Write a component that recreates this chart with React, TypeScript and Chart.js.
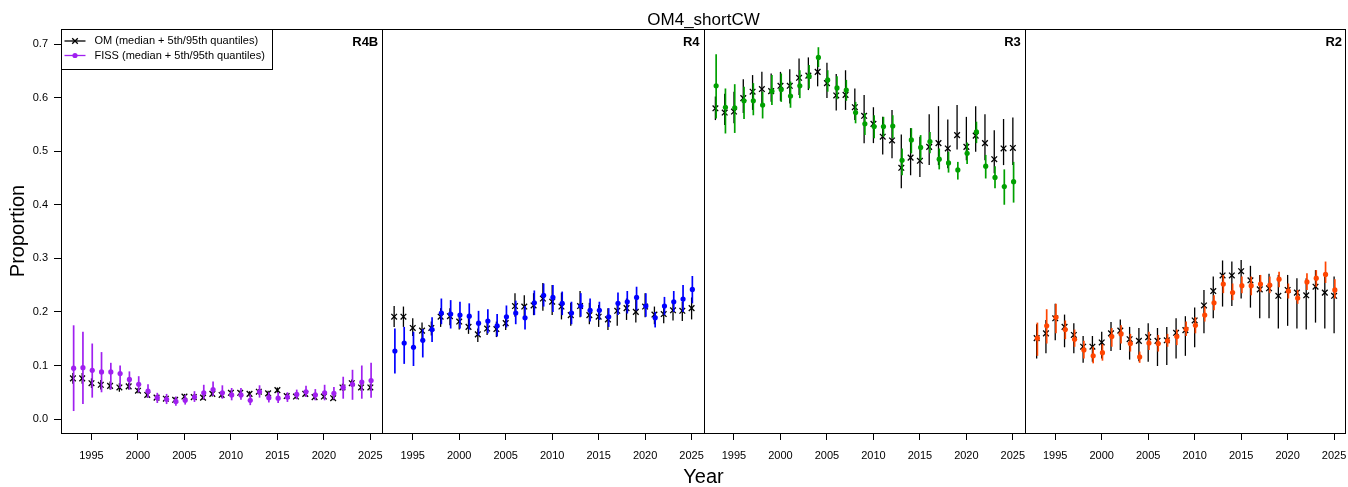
import React, { useEffect, useRef } from "react";
import { Chart, registerables } from "chart.js";

Chart.register(...registerables);

// ---------- data ----------
const YEARS = [1993, 1994, 1995, 1996, 1997, 1998, 1999, 2000, 2001, 2002, 2003, 2004, 2005, 2006, 2007, 2008, 2009, 2010, 2011, 2012, 2013, 2014, 2015, 2016, 2017, 2018, 2019, 2020, 2021, 2022, 2023, 2024, 2025];
const X_TICK_YEARS = [1995, 2000, 2005, 2010, 2015, 2020, 2025];
const Y_TICKS = [0, 0.1, 0.2, 0.3, 0.4, 0.5, 0.6, 0.7];
const PANEL_NAMES = ["R4B", "R4", "R3", "R2"];
const TITLE = "OM4_shortCW";
const LEGEND_LABELS = ["OM (median + 5th/95th quantiles)", "FISS (median + 5th/95th quantiles)"];

// R4B
const R4B_OM_MED = [0.076, 0.076, 0.067, 0.064, 0.062, 0.059, 0.061, 0.053, 0.045, 0.040, 0.038, 0.036, 0.042, 0.041, 0.040, 0.047, 0.045, 0.049, 0.049, 0.047, 0.051, 0.048, 0.054, 0.043, 0.042, 0.047, 0.041, 0.042, 0.039, 0.059, 0.067, 0.059, 0.059];
const R4B_OM_LO = [0.066, 0.066, 0.058, 0.055, 0.055, 0.051, 0.055, 0.048, 0.040, 0.035, 0.034, 0.032, 0.038, 0.037, 0.036, 0.042, 0.040, 0.044, 0.044, 0.042, 0.046, 0.043, 0.049, 0.039, 0.038, 0.042, 0.037, 0.038, 0.035, 0.053, 0.061, 0.053, 0.053];
const R4B_OM_HI = [0.086, 0.086, 0.076, 0.073, 0.070, 0.067, 0.068, 0.058, 0.050, 0.045, 0.043, 0.041, 0.047, 0.046, 0.045, 0.052, 0.050, 0.054, 0.054, 0.052, 0.056, 0.053, 0.059, 0.048, 0.047, 0.052, 0.046, 0.047, 0.044, 0.066, 0.074, 0.066, 0.066];
const R4B_FISS_MED = [0.095, 0.096, 0.091, 0.088, 0.088, 0.085, 0.074, 0.065, 0.052, 0.040, 0.037, 0.033, 0.035, 0.041, 0.049, 0.055, 0.049, 0.045, 0.045, 0.035, 0.051, 0.040, 0.039, 0.041, 0.046, 0.051, 0.045, 0.049, 0.048, 0.059, 0.065, 0.069, 0.072];
const R4B_FISS_LO = [0.015, 0.028, 0.040, 0.050, 0.055, 0.058, 0.055, 0.050, 0.040, 0.030, 0.028, 0.025, 0.027, 0.032, 0.037, 0.043, 0.038, 0.035, 0.036, 0.026, 0.040, 0.031, 0.030, 0.032, 0.037, 0.041, 0.035, 0.035, 0.037, 0.038, 0.036, 0.038, 0.040];
const R4B_FISS_HI = [0.175, 0.163, 0.141, 0.125, 0.105, 0.100, 0.089, 0.080, 0.065, 0.049, 0.047, 0.042, 0.045, 0.052, 0.064, 0.070, 0.063, 0.058, 0.058, 0.046, 0.063, 0.050, 0.050, 0.050, 0.055, 0.062, 0.056, 0.064, 0.060, 0.079, 0.092, 0.100, 0.105];

// R4
const R4_OM_MED = [0.191, 0.191, 0.170, 0.165, 0.170, 0.191, 0.192, 0.182, 0.172, 0.158, 0.169, 0.168, 0.179, 0.211, 0.210, 0.212, 0.225, 0.219, 0.210, 0.194, 0.211, 0.194, 0.191, 0.186, 0.202, 0.207, 0.200, 0.210, 0.195, 0.196, 0.203, 0.202, 0.207];
const R4_OM_LO = [0.172, 0.172, 0.155, 0.147, 0.156, 0.172, 0.175, 0.167, 0.159, 0.144, 0.157, 0.153, 0.166, 0.191, 0.188, 0.194, 0.202, 0.194, 0.186, 0.174, 0.190, 0.177, 0.172, 0.166, 0.174, 0.185, 0.180, 0.190, 0.177, 0.179, 0.184, 0.183, 0.186];
const R4_OM_HI = [0.211, 0.210, 0.188, 0.180, 0.182, 0.207, 0.207, 0.197, 0.188, 0.169, 0.182, 0.182, 0.188, 0.235, 0.231, 0.235, 0.254, 0.250, 0.236, 0.217, 0.239, 0.217, 0.213, 0.207, 0.216, 0.225, 0.222, 0.235, 0.210, 0.208, 0.222, 0.219, 0.227];
const R4_FISS_MED = [0.127, 0.142, 0.134, 0.147, 0.167, 0.198, 0.196, 0.194, 0.192, 0.179, 0.183, 0.174, 0.191, 0.198, 0.189, 0.217, 0.231, 0.227, 0.216, 0.198, 0.211, 0.203, 0.203, 0.191, 0.216, 0.219, 0.227, 0.211, 0.189, 0.211, 0.219, 0.224, 0.242];
const R4_FISS_LO = [0.085, 0.103, 0.099, 0.115, 0.144, 0.177, 0.169, 0.169, 0.167, 0.156, 0.160, 0.154, 0.171, 0.177, 0.167, 0.194, 0.210, 0.200, 0.194, 0.177, 0.191, 0.182, 0.185, 0.172, 0.194, 0.197, 0.203, 0.191, 0.171, 0.194, 0.200, 0.200, 0.216];
const R4_FISS_HI = [0.169, 0.172, 0.163, 0.168, 0.190, 0.225, 0.222, 0.219, 0.216, 0.202, 0.205, 0.196, 0.212, 0.221, 0.211, 0.240, 0.253, 0.250, 0.238, 0.219, 0.235, 0.225, 0.219, 0.207, 0.236, 0.239, 0.247, 0.235, 0.200, 0.228, 0.239, 0.250, 0.267];

// R3
const R3_OM_MED = [0.580, 0.572, 0.574, 0.599, 0.611, 0.616, 0.612, 0.622, 0.622, 0.637, 0.641, 0.648, 0.627, 0.604, 0.605, 0.582, 0.566, 0.551, 0.527, 0.520, 0.469, 0.488, 0.482, 0.508, 0.515, 0.505, 0.530, 0.508, 0.529, 0.515, 0.485, 0.505, 0.506];
const R3_OM_LO = [0.558, 0.549, 0.552, 0.571, 0.577, 0.583, 0.592, 0.594, 0.589, 0.605, 0.614, 0.621, 0.599, 0.576, 0.577, 0.558, 0.515, 0.515, 0.494, 0.487, 0.431, 0.455, 0.452, 0.474, 0.474, 0.468, 0.503, 0.483, 0.499, 0.483, 0.459, 0.474, 0.474];
const R3_OM_HI = [0.602, 0.607, 0.611, 0.634, 0.642, 0.648, 0.645, 0.648, 0.653, 0.673, 0.675, 0.673, 0.665, 0.644, 0.651, 0.617, 0.605, 0.582, 0.564, 0.577, 0.531, 0.543, 0.527, 0.569, 0.584, 0.559, 0.586, 0.564, 0.584, 0.569, 0.539, 0.560, 0.563];
const R3_FISS_MED = [0.622, 0.582, 0.581, 0.594, 0.594, 0.586, 0.612, 0.615, 0.603, 0.622, 0.640, 0.675, 0.633, 0.618, 0.614, 0.572, 0.551, 0.546, 0.546, 0.547, 0.483, 0.521, 0.507, 0.518, 0.485, 0.478, 0.465, 0.496, 0.536, 0.472, 0.451, 0.434, 0.443];
const R3_FISS_LO = [0.561, 0.533, 0.534, 0.560, 0.567, 0.561, 0.586, 0.592, 0.581, 0.599, 0.617, 0.657, 0.611, 0.597, 0.594, 0.552, 0.530, 0.524, 0.527, 0.524, 0.455, 0.496, 0.483, 0.496, 0.466, 0.460, 0.447, 0.476, 0.515, 0.449, 0.431, 0.400, 0.404];
const R3_FISS_HI = [0.681, 0.617, 0.625, 0.620, 0.627, 0.611, 0.642, 0.645, 0.630, 0.651, 0.661, 0.694, 0.651, 0.640, 0.633, 0.592, 0.571, 0.567, 0.564, 0.567, 0.505, 0.543, 0.530, 0.536, 0.505, 0.499, 0.480, 0.516, 0.555, 0.493, 0.472, 0.466, 0.480];

// R2
const R2_OM_MED = [0.151, 0.160, 0.188, 0.172, 0.157, 0.135, 0.135, 0.143, 0.160, 0.165, 0.149, 0.146, 0.153, 0.146, 0.147, 0.161, 0.166, 0.184, 0.212, 0.239, 0.268, 0.268, 0.276, 0.259, 0.242, 0.244, 0.230, 0.241, 0.236, 0.231, 0.247, 0.236, 0.230];
const R2_OM_LO = [0.113, 0.123, 0.147, 0.134, 0.123, 0.105, 0.107, 0.113, 0.127, 0.129, 0.111, 0.108, 0.107, 0.099, 0.101, 0.113, 0.118, 0.134, 0.160, 0.188, 0.210, 0.211, 0.225, 0.208, 0.188, 0.188, 0.169, 0.174, 0.169, 0.167, 0.180, 0.169, 0.160];
const R2_OM_HI = [0.177, 0.185, 0.215, 0.195, 0.179, 0.155, 0.155, 0.163, 0.181, 0.186, 0.172, 0.170, 0.179, 0.170, 0.172, 0.188, 0.192, 0.208, 0.241, 0.266, 0.296, 0.294, 0.297, 0.286, 0.269, 0.271, 0.269, 0.269, 0.263, 0.263, 0.278, 0.266, 0.266];
const R2_FISS_MED = [0.151, 0.174, 0.190, 0.167, 0.149, 0.129, 0.118, 0.124, 0.154, 0.159, 0.141, 0.116, 0.142, 0.141, 0.146, 0.154, 0.168, 0.175, 0.194, 0.217, 0.252, 0.236, 0.249, 0.249, 0.252, 0.250, 0.261, 0.239, 0.226, 0.256, 0.263, 0.270, 0.241];
const R2_FISS_LO = [0.118, 0.141, 0.160, 0.149, 0.135, 0.113, 0.104, 0.109, 0.135, 0.141, 0.126, 0.105, 0.129, 0.126, 0.135, 0.138, 0.155, 0.160, 0.182, 0.203, 0.235, 0.222, 0.235, 0.231, 0.238, 0.235, 0.246, 0.225, 0.215, 0.241, 0.247, 0.254, 0.225];
const R2_FISS_HI = [0.180, 0.205, 0.215, 0.184, 0.167, 0.146, 0.135, 0.140, 0.170, 0.175, 0.159, 0.126, 0.163, 0.157, 0.159, 0.167, 0.182, 0.190, 0.210, 0.231, 0.269, 0.253, 0.266, 0.266, 0.269, 0.266, 0.275, 0.253, 0.241, 0.272, 0.278, 0.294, 0.261];

// ---------- styling / layout ----------
const FONT = "'Liberation Sans', Arial, Helvetica, sans-serif";
const FISS_COLORS = ["#A020F0", "#0000FF", "#00A000", "#FF4500"];
const OM_COLOR = "#000000";
const X_MIN_YEAR = 1991.72;
const X_MAX_YEAR = 2026.28;
const SPAN = X_MAX_YEAR - X_MIN_YEAR;
const FISS_SHIFT = 0.08;
const Y_MIN = -0.026;
const Y_MAX = 0.728;

const PANELS = [
  { om: [R4B_OM_MED, R4B_OM_LO, R4B_OM_HI], fiss: [R4B_FISS_MED, R4B_FISS_LO, R4B_FISS_HI] },
  { om: [R4_OM_MED, R4_OM_LO, R4_OM_HI], fiss: [R4_FISS_MED, R4_FISS_LO, R4_FISS_HI] },
  { om: [R3_OM_MED, R3_OM_LO, R3_OM_HI], fiss: [R3_FISS_MED, R3_FISS_LO, R3_FISS_HI] },
  { om: [R2_OM_MED, R2_OM_LO, R2_OM_HI], fiss: [R2_FISS_MED, R2_FISS_LO, R2_FISS_HI] },
];

const toX = (panel: number, year: number) => panel * SPAN + (year - X_MIN_YEAR);

function buildDatasets() {
  const ds: any[] = [];
  PANELS.forEach((p, pi) => {
    const [omMed, omLo, omHi] = p.om;
    const [fMed, fLo, fHi] = p.fiss;
    const color = FISS_COLORS[pi];
    ds.push({
      type: "bar",
      label: "OM range " + PANEL_NAMES[pi],
      data: YEARS.map((y, i) => ({ x: toX(pi, y), y: [omLo[i], omHi[i]] })),
      backgroundColor: OM_COLOR,
      borderWidth: 0,
      inflateAmount: 0,
      barThickness: 1.3,
      maxBarThickness: 1.3,
      grouped: false,
      order: 40,
    });
    ds.push({
      type: "scatter",
      label: "OM " + PANEL_NAMES[pi],
      data: YEARS.map((y, i) => ({ x: toX(pi, y), y: omMed[i] })),
      pointStyle: "crossRot",
      pointRadius: 4,
      borderColor: OM_COLOR,
      backgroundColor: OM_COLOR,
      borderWidth: 1.3,
      showLine: false,
      order: 30,
    });
    ds.push({
      type: "bar",
      label: "FISS range " + PANEL_NAMES[pi],
      data: YEARS.map((y, i) => ({ x: toX(pi, y + FISS_SHIFT), y: [fLo[i], fHi[i]] })),
      backgroundColor: color,
      borderWidth: 0,
      inflateAmount: 0,
      barThickness: 1.7,
      maxBarThickness: 1.7,
      grouped: false,
      order: 20,
    });
    ds.push({
      type: "scatter",
      label: "FISS " + PANEL_NAMES[pi],
      data: YEARS.map((y, i) => ({ x: toX(pi, y + FISS_SHIFT), y: fMed[i] })),
      pointStyle: "circle",
      pointRadius: 2.6,
      borderWidth: 0,
      backgroundColor: color,
      borderColor: color,
      showLine: false,
      order: 10,
    });
  });
  return ds;
}

const decorPlugin = {
  id: "decor",
  afterDraw(chart: any) {
    const { ctx, chartArea } = chart;
    const xs = chart.scales.x;
    const { left, right, top, bottom } = chartArea;
    ctx.save();
    // frame + panel separators
    ctx.strokeStyle = "#000";
    ctx.lineWidth = 1;
    ctx.strokeRect(Math.round(left) + 0.5, Math.round(top) + 0.5, Math.round(right - left) - 1, Math.round(bottom - top));
    for (let p = 1; p < PANEL_NAMES.length; p++) {
      const px = Math.round(xs.getPixelForValue(p * SPAN)) + 0.5;
      ctx.beginPath();
      ctx.moveTo(px, top);
      ctx.lineTo(px, bottom);
      ctx.stroke();
    }
    // panel labels
    ctx.fillStyle = "#000";
    ctx.font = "bold 13px " + FONT;
    ctx.textAlign = "right";
    ctx.textBaseline = "alphabetic";
    PANEL_NAMES.forEach((name, p) => {
      const pr = xs.getPixelForValue((p + 1) * SPAN);
      ctx.fillText(name, pr - 4, top + 17);
    });
    // main title
    ctx.font = "17px " + FONT;
    ctx.textAlign = "center";
    ctx.fillText(TITLE, (left + right) / 2, 25);
    // legend box
    const lx = Math.round(left) + 0.5;
    const ly = Math.round(top) + 0.5;
    ctx.strokeRect(lx, ly, 211, 40);
    const rows = [
      { y: ly + 11.5, color: OM_COLOR, kind: "cross" },
      { y: ly + 26, color: FISS_COLORS[0], kind: "dot" },
    ];
    rows.forEach((r, i) => {
      ctx.strokeStyle = r.color;
      ctx.fillStyle = r.color;
      ctx.lineWidth = 1.3;
      ctx.beginPath();
      ctx.moveTo(lx + 3, r.y);
      ctx.lineTo(lx + 24, r.y);
      ctx.stroke();
      const cx = lx + 13.5;
      if (r.kind === "cross") {
        ctx.beginPath();
        ctx.moveTo(cx - 2.8, r.y - 2.8);
        ctx.lineTo(cx + 2.8, r.y + 2.8);
        ctx.moveTo(cx - 2.8, r.y + 2.8);
        ctx.lineTo(cx + 2.8, r.y - 2.8);
        ctx.stroke();
      } else {
        ctx.beginPath();
        ctx.arc(cx, r.y, 2.6, 0, Math.PI * 2);
        ctx.fill();
      }
      ctx.fillStyle = "#000";
      ctx.font = "11px " + FONT;
      ctx.textAlign = "left";
      ctx.textBaseline = "middle";
      ctx.fillText(LEGEND_LABELS[i], lx + 33, r.y);
    });
    ctx.restore();
  },
};

export default function App() {
  const canvasRef = useRef<HTMLCanvasElement | null>(null);

  useEffect(() => {
    document.body.style.margin = "0";
    const canvas = canvasRef.current;
    if (!canvas) return;
    const chart = new Chart(canvas, {
      type: "bar",
      data: { datasets: buildDatasets() },
      options: {
        animation: false,
        responsive: false,
        maintainAspectRatio: false,
        devicePixelRatio: 1,
        layout: { autoPadding: false, padding: { top: 29, right: 2, left: 0, bottom: 0 } },
        plugins: {
          legend: { display: false },
          tooltip: { enabled: false },
          title: { display: false },
        },
        scales: {
          x: {
            type: "linear",
            min: 0,
            max: SPAN * PANEL_NAMES.length,
            offset: false,
            border: { display: false },
            grid: {
              display: true,
              offset: false,
              drawOnChartArea: false,
              drawTicks: true,
              tickLength: 7,
              color: "#000",
              lineWidth: 1,
            },
            ticks: {
              autoSkip: false,
              maxRotation: 0,
              minRotation: 0,
              color: "#000",
              padding: 9,
              font: { family: FONT, size: 11 },
              callback: (v: any) => {
                const value = Number(v);
                const p = Math.floor(value / SPAN);
                return String(Math.round(value - p * SPAN + X_MIN_YEAR));
              },
            },
            afterBuildTicks: (scale: any) => {
              const ticks: any[] = [];
              PANEL_NAMES.forEach((_, p) => {
                X_TICK_YEARS.forEach((y) => ticks.push({ value: toX(p, y) }));
              });
              scale.ticks = ticks;
            },
            afterFit: (scale: any) => {
              scale.height = 54;
              scale.paddingLeft = 0;
              scale.paddingRight = 0;
            },
            title: {
              display: true,
              text: "Year",
              color: "#000",
              font: { family: FONT, size: 20, lineHeight: 1 },
              padding: { top: 0, bottom: 0 },
            },
          },
          y: {
            type: "linear",
            min: Y_MIN,
            max: Y_MAX,
            border: { display: false },
            grid: {
              display: true,
              drawOnChartArea: false,
              drawTicks: true,
              tickLength: 7,
              color: "#000",
              lineWidth: 1,
            },
            ticks: {
              color: "#000",
              padding: 6,
              font: { family: FONT, size: 11 },
              callback: (v: any) => Number(v).toFixed(1),
            },
            afterBuildTicks: (scale: any) => {
              scale.ticks = Y_TICKS.map((v) => ({ value: v }));
            },
            afterFit: (scale: any) => {
              scale.width = 61;
              scale.paddingTop = 0;
              scale.paddingBottom = 0;
            },
            title: {
              display: true,
              text: "Proportion",
              color: "#000",
              font: { family: FONT, size: 20, lineHeight: 1 },
              padding: { top: 8, bottom: 0 },
            },
          },
        },
      } as any,
      plugins: [decorPlugin],
    });
    return () => chart.destroy();
  }, []);

  return (
    <div style={{ width: 1348, height: 487 }}>
      <canvas ref={canvasRef} width={1348} height={487} style={{ display: "block", width: 1348, height: 487 }} />
    </div>
  );
}
